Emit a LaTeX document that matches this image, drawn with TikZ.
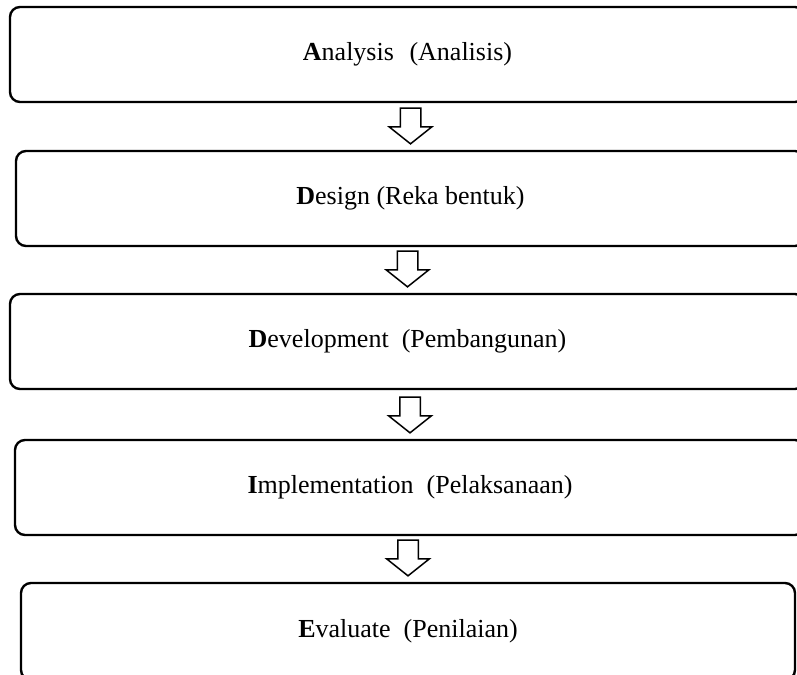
\documentclass[tikz,border=0pt]{standalone}
\usepackage{fontspec}
\setmainfont{Liberation Serif}
\usetikzlibrary{shapes.arrows}

\tikzset{
  stage/.style={draw=black,line width=2.4pt,rounded corners=10pt,minimum height=95pt,font=\fontsize{26}{31}\selectfont,inner sep=0pt},
  blockarrow/.style={draw=black,line width=1.5pt,fill=white,single arrow,shape border rotate=270,
    inner xsep=9.5pt,inner ysep=13pt,single arrow head extend=11pt,single arrow tip angle=103,anchor=tip}
}

\begin{document}
\begin{tikzpicture}[x=1pt,y=-1pt]
\useasboundingbox (0,0) rectangle (797,674);
% Boxes (ADDIE stages)
\node[stage,minimum width=795pt] (analysis) at (407.5,54.5) {\textbf{A}nalysis\hspace{0.6em}(Analisis)};
\node[stage,minimum width=789pt] (design) at (410.5,198.5) {\textbf{D}esign (Reka bentuk)};
\node[stage,minimum width=795pt] (development) at (407.5,341.5) {\textbf{D}evelopment~ (Pembangunan)};
\node[stage,minimum width=790pt] (implementation) at (410,487.5) {\textbf{I}mplementation~ (Pelaksanaan)};
\node[stage,minimum width=774pt,minimum height=97pt] (evaluate) at (408,631.5) {\textbf{E}valuate~ (Penilaian)};
% Arrows
\node[blockarrow] (arr1) at ([yshift=5pt]design.north) {};
\node[blockarrow] (arr2) at ([yshift=5pt]development.north) {};
\node[blockarrow] (arr3) at ([yshift=5pt]implementation.north) {};
\node[blockarrow] (arr4) at ([yshift=5pt]evaluate.north) {};
\end{tikzpicture}
\end{document}
